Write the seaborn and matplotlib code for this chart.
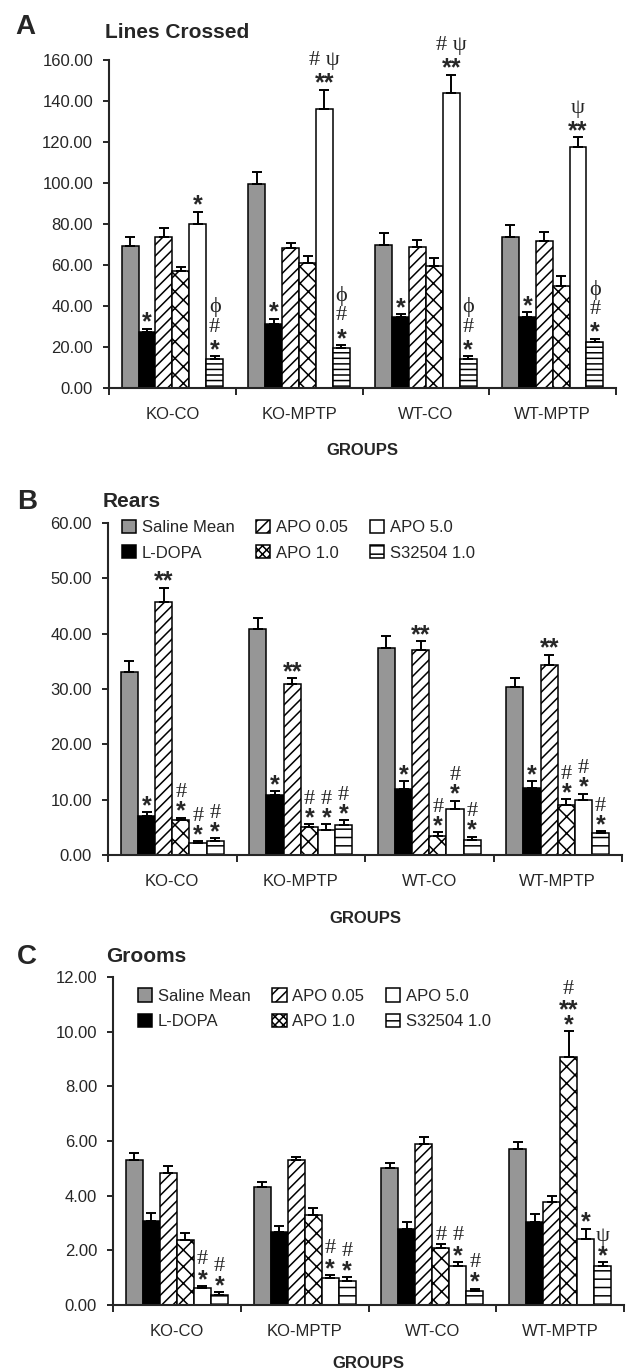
import numpy as np
import pandas as pd
import matplotlib
matplotlib.use("Agg")
import matplotlib.pyplot as plt
import seaborn as sns

groups = ['KO-CO', 'KO-MPTP', 'WT-CO', 'WT-MPTP']
treatments = ['Saline Mean', 'L-DOPA', 'APO 0.05', 'APO 1.0', 'APO 5.0', 'S32504 1.0']

# rows = treatments, columns = groups
lines_mean = [
    [69.5, 99.5, 70.0, 73.5],
    [27.5, 31.0, 34.5, 34.5],
    [73.5, 68.5, 69.0, 71.5],
    [57.0, 61.0, 59.5, 50.0],
    [80.0, 136.0, 144.0, 117.5],
    [14.0, 19.5, 14.0, 22.5],
]
lines_err = [
    [4.0, 6.0, 5.5, 6.0],
    [1.5, 2.8, 1.6, 2.4],
    [4.5, 2.0, 3.3, 4.4],
    [2.0, 3.5, 4.0, 4.5],
    [6.0, 9.5, 8.8, 4.8],
    [1.5, 1.5, 1.5, 1.6],
]
rears_mean = [
    [33.1, 40.8, 37.4, 30.4],
    [7.1, 10.9, 11.9, 12.1],
    [45.7, 30.9, 37.0, 34.4],
    [6.3, 5.0, 3.5, 9.1],
    [2.2, 4.5, 8.3, 9.9],
    [2.5, 5.4, 2.8, 4.0],
]
rears_err = [
    [1.9, 2.1, 2.1, 1.6],
    [0.6, 0.6, 1.4, 1.2],
    [2.6, 1.1, 1.7, 1.8],
    [0.45, 0.55, 0.6, 1.0],
    [0.3, 1.1, 1.5, 1.2],
    [0.5, 0.9, 0.5, 0.3],
]
grooms_mean = [
    [5.3, 4.3, 5.0, 5.7],
    [3.07, 2.68, 2.79, 3.04],
    [4.83, 5.3, 5.9, 3.78],
    [2.37, 3.29, 2.08, 9.09],
    [0.64, 1.0, 1.41, 2.43],
    [0.36, 0.89, 0.5, 1.41],
]
grooms_err = [
    [0.27, 0.2, 0.2, 0.25],
    [0.3, 0.2, 0.25, 0.3],
    [0.25, 0.1, 0.25, 0.2],
    [0.25, 0.25, 0.15, 0.95],
    [0.06, 0.1, 0.17, 0.36],
    [0.1, 0.12, 0.1, 0.15],
]

# significance marks: (treatment, group, labels from bottom to top)
lines_marks = [
    (1, 0, ['*']), (4, 0, ['*']), (5, 0, ['*', '#', 'ϕ']),
    (1, 1, ['*']), (4, 1, ['**', '# ψ']), (5, 1, ['*', '#', 'ϕ']),
    (1, 2, ['*']), (4, 2, ['**', '# ψ']), (5, 2, ['*', '#', 'ϕ']),
    (1, 3, ['*']), (4, 3, ['**', 'ψ']), (5, 3, ['*', '#', 'ϕ']),
]
rears_marks = [
    (1, 0, ['*']), (2, 0, ['**']), (3, 0, ['*', '#']), (4, 0, ['*', '#']), (5, 0, ['*', '#']),
    (1, 1, ['*']), (2, 1, ['**']), (3, 1, ['*', '#']), (4, 1, ['*', '#']), (5, 1, ['*', '#']),
    (1, 2, ['*']), (2, 2, ['**']), (3, 2, ['*', '#']), (4, 2, ['*', '#']), (5, 2, ['*', '#']),
    (1, 3, ['*']), (2, 3, ['**']), (3, 3, ['*', '#']), (4, 3, ['*', '#']), (5, 3, ['*', '#']),
]
grooms_marks = [
    (4, 0, ['*', '#']), (5, 0, ['*', '#']),
    (4, 1, ['*', '#']), (5, 1, ['*', '#']),
    (3, 2, ['#']), (4, 2, ['*', '#']), (5, 2, ['*', '#']),
    (3, 3, ['**\n*', '#']), (4, 3, ['*']), (5, 3, ['*', 'ψ']),
]

colors = ['#969696', '#000000', '#ffffff', '#ffffff', '#ffffff', '#ffffff']

sns.set_style("ticks")
plt.rcParams['font.family'] = ['Liberation Sans', 'DejaVu Sans']
plt.rcParams['hatch.linewidth'] = 1.1

W, H = 631, 1370
fig = plt.figure(figsize=(W / 100, H / 100), dpi=100)


def px_axes(l, t, r, b):
    return fig.add_axes([l / W, 1 - b / H, (r - l) / W, (b - t) / H])


def draw_panel(ax, means, errs, marks, ymax, ystep, step_px, hline, labelpad,
               legend_at=None):
    rows = []
    for t, name in enumerate(treatments):
        for g, grp in enumerate(groups):
            rows.append({'group': grp, 'treatment': name, 'value': means[t][g]})
    df = pd.DataFrame(rows)
    sns.barplot(data=df, x='group', y='value', hue='treatment', order=groups,
                hue_order=treatments, palette=colors, saturation=1,
                edgecolor='black', linewidth=1.1, errorbar=None, legend=False,
                width=0.8, ax=ax)
    hatches = ['', '', '///', 'xx', '', hline]
    bar_conts = list(ax.containers)
    xpos = []
    for t, cont in enumerate(bar_conts):
        xs = []
        for bar in cont.patches:
            bar.set_hatch(hatches[t])
            xs.append(bar.get_x() + bar.get_width() / 2)
        xpos.append(xs)
    for t in range(len(treatments)):
        ax.errorbar(xpos[t], means[t], yerr=[np.zeros(len(groups)), errs[t]],
                    fmt='none', ecolor='black', elinewidth=1.4, capsize=3.5,
                    capthick=1.4)

    for t, g, labels in marks:
        top = means[t][g] + errs[t][g]
        off = 9
        prev_n = None
        for lab in labels:
            n = lab.count('\n') + 1
            if prev_n is not None:
                off += step_px * (prev_n + n) / 2
            elif n > 1:
                off += 14 * (n - 1) / 2
            prev_n = n
            if set(lab) <= {'*', '\n'}:
                ax.annotate(lab, (xpos[t][g], top), xytext=(0, (off - 3) * 0.72),
                            textcoords='offset points', ha='center', va='center',
                            fontsize=18, fontweight='bold', linespacing=0.55,
                            multialignment='center')
            else:
                ax.annotate(lab, (xpos[t][g], top), xytext=(0, off * 0.72),
                            textcoords='offset points', ha='center', va='center',
                            fontsize=16, family=['Liberation Serif', 'DejaVu Serif'])

    ax.set_xlim(-0.5, 3.5)
    ax.set_ylim(0, ymax)
    ax.set_yticks(np.arange(0, ymax + ystep / 2, ystep))
    ax.yaxis.set_major_formatter(matplotlib.ticker.FormatStrFormatter('%.2f'))
    ax.set_xticks(range(len(groups)))
    ax.set_xticklabels(groups)
    ax.set_xticks([-0.5, 0.5, 1.5, 2.5, 3.5], minor=True)
    ax.tick_params(axis='x', which='major', length=0, pad=14, labelsize=12)
    ax.tick_params(axis='x', which='minor', length=5, width=1.4)
    ax.tick_params(axis='y', length=4.5, width=1.4, pad=7, labelsize=12)
    ax.set_xlabel('GROUPS', fontsize=12, fontweight='bold', labelpad=labelpad)
    ax.set_ylabel('')
    sns.despine(ax=ax)
    for s in ['left', 'bottom']:
        ax.spines[s].set_linewidth(1.5)

    if legend_at is not None:
        handles = [cont.patches[0] for cont in bar_conts]
        leg = ax.legend(handles, treatments, ncol=3, loc='upper left',
                        bbox_to_anchor=legend_at, frameon=False, fontsize=12,
                        handlelength=0.85, handleheight=0.85, handletextpad=0.35,
                        columnspacing=1.3, labelspacing=0.6, borderpad=0,
                        borderaxespad=0)
        leg.legend_handles[3].set_hatch('xxxx')
        leg.legend_handles[5].set_hatch('--')


axA = px_axes(109, 60, 616, 388)
draw_panel(axA, lines_mean, lines_err, lines_marks, 160, 20, 20, '---', 14.5)
axB = px_axes(108, 523, 622, 855)
draw_panel(axB, rears_mean, rears_err, rears_marks, 60, 10, 16, '--', 15.5,
           legend_at=(0.027, 1.01))
axC = px_axes(113, 977, 624, 1305)
draw_panel(axC, grooms_mean, grooms_err, grooms_marks, 12, 2, 17, '--', 12,
           legend_at=(0.049, 0.965))

for letter, lx, ly, title, tx, ty in [('A', 15, 34, 'Lines Crossed', 105, 38),
                                      ('B', 17, 509, 'Rears', 103, 507),
                                      ('C', 17, 964, 'Grooms', 106, 962)]:
    fig.text(lx / W, 1 - ly / H, letter, fontsize=20, fontweight='bold', va='baseline')
    fig.text(tx / W, 1 - ty / H, title, fontsize=15, fontweight='bold', va='baseline')

fig.savefig('out.png', dpi=100)
